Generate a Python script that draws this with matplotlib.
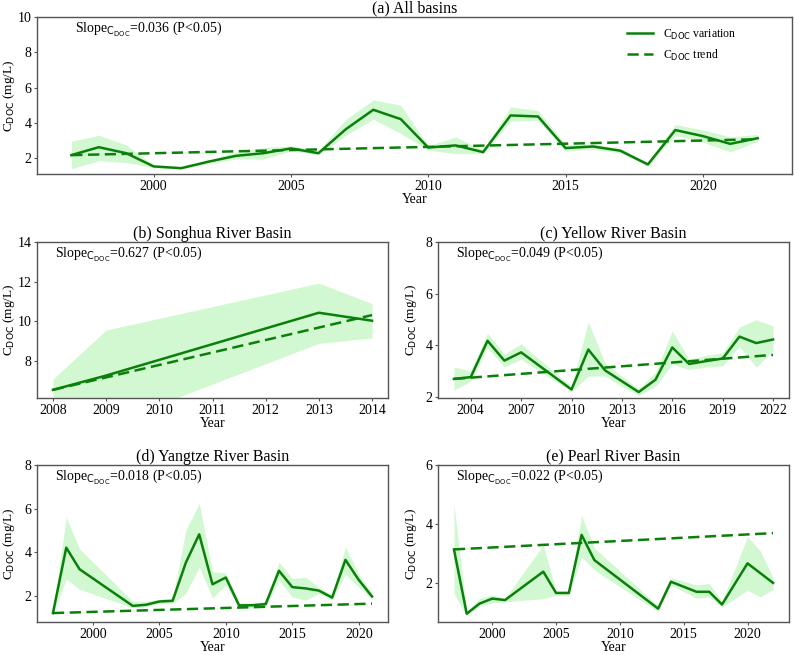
import matplotlib
matplotlib.use("Agg")
import matplotlib.pyplot as plt
import numpy as np

plt.rcParams['font.family'] = ['Liberation Serif', 'DejaVu Sans']
plt.rcParams['mathtext.fontset'] = 'dejavusans'

LINE = '#0a800a'
FILL = '#90ee90'

# (a) All basins
a_years = [1997, 1998, 1999, 2000, 2001, 2002, 2003, 2004, 2005, 2006, 2007, 2008, 2009,
           2010, 2011, 2012, 2013, 2014, 2015, 2016, 2017, 2018, 2019, 2020, 2021, 2022]
a_mean = [2.17, 2.62, 2.28, 1.53, 1.43, 1.8, 2.13, 2.28, 2.55, 2.28, 3.64, 4.74, 4.21,
          2.6, 2.72, 2.34, 4.42, 4.36, 2.57, 2.66, 2.42, 1.64, 3.59, 3.25, 2.81, 3.13]
a_low = [1.4, 1.85, 1.75, 1.45, 1.38, 1.7, 1.95, 1.95, 2.4, 2.2, 3.3, 4.2, 3.4,
         2.45, 2.25, 2.25, 4.1, 4.15, 2.4, 2.5, 2.3, 1.55, 3.3, 2.9, 2.35, 2.95]
a_high = [2.95, 3.3, 2.75, 1.6, 1.5, 1.9, 2.35, 2.6, 2.7, 2.4, 4.2, 5.3, 5.0,
          2.7, 3.2, 2.45, 4.9, 4.7, 2.75, 2.8, 2.55, 1.75, 3.9, 3.6, 3.2, 3.35]
a_slope = 0.036

# (b) Songhua River Basin
b_years = [2008, 2009, 2013, 2014]
b_mean = [6.56, 7.28, 10.44, 10.04]
b_low = [6.0, 4.8, 8.9, 9.17]
b_high = [7.1, 9.57, 11.93, 10.9]
b_slope = 0.627

# (c) Yellow River Basin
c_years = [2003, 2004, 2005, 2006, 2007, 2010, 2011, 2012, 2013, 2014, 2015,
           2016, 2017, 2018, 2019, 2020, 2021, 2022]
c_mean = [2.69, 2.76, 4.17, 3.4, 3.72, 2.28, 3.83, 3.02, 2.6, 2.18, 2.66,
          3.91, 3.27, 3.38, 3.48, 4.33, 4.08, 4.22]
c_low = [2.25, 2.6, 3.9, 3.15, 3.45, 2.2, 2.8, 2.8, 2.4, 2.05, 2.4,
         3.27, 3.05, 3.15, 3.2, 3.95, 3.15, 3.8]
c_high = [3.15, 3.0, 4.46, 3.65, 4.05, 2.4, 4.9, 3.3, 2.8, 2.3, 2.95,
          4.55, 3.45, 3.6, 3.7, 4.7, 4.98, 4.75]
c_slope = 0.049

# (d) Yangtze River Basin
d_years = [1997, 1998, 1999, 2003, 2004, 2005, 2006, 2007, 2008, 2009, 2010,
           2011, 2012, 2013, 2014, 2015, 2016, 2017, 2018, 2019, 2020, 2021]
d_mean = [1.21, 4.21, 3.22, 1.54, 1.59, 1.74, 1.77, 3.53, 4.82, 2.53, 2.84,
          1.56, 1.57, 1.62, 3.15, 2.4, 2.34, 2.24, 1.92, 3.65, 2.73, 1.97]
d_low = [1.15, 2.76, 2.3, 1.45, 1.5, 1.65, 1.65, 2.12, 3.31, 1.9, 2.5,
         1.45, 1.45, 1.5, 2.7, 1.95, 1.8, 2.1, 1.8, 3.0, 2.4, 1.85]
d_high = [1.3, 5.6, 4.15, 1.75, 1.75, 1.85, 1.9, 5.02, 6.24, 3.1, 3.05,
          1.7, 1.65, 1.75, 3.55, 2.8, 2.85, 2.4, 2.05, 4.25, 3.0, 2.1]
d_slope = 0.018

# (e) Pearl River Basin
e_years = [1997, 1998, 1999, 2000, 2001, 2004, 2005, 2006, 2007, 2008, 2013,
           2014, 2016, 2017, 2018, 2020, 2021, 2022]
e_mean = [3.15, 0.98, 1.32, 1.49, 1.44, 2.4, 1.68, 1.68, 3.64, 2.79, 1.15,
          2.06, 1.72, 1.72, 1.29, 2.68, 2.35, 2.02]
e_low = [1.66, 0.9, 1.25, 1.35, 1.38, 1.49, 1.6, 1.6, 2.9, 2.45, 1.05,
         1.95, 1.5, 1.55, 1.2, 1.77, 1.55, 1.8]
e_high = [4.69, 1.05, 1.5, 1.62, 1.5, 3.3, 1.75, 1.75, 4.3, 3.2, 1.25,
          2.2, 1.95, 2.0, 1.4, 3.58, 3.1, 2.2]
e_slope = 0.022

titles = ['(a) All basins', '(b) Songhua River Basin', '(c) Yellow River Basin',
          '(d) Yangtze River Basin', '(e) Pearl River Basin']

fig = plt.figure(figsize=(7.94, 6.55), dpi=100)
W, H = 794.0, 655.0


def add_ax(l, t, r, b):
    return fig.add_axes([l / W, (H - b) / H, (r - l) / W, (b - t) / H])


boxes = [(37, 17, 792, 174), (37, 242, 388, 398), (438, 242, 789, 398),
         (37, 465, 388, 622), (438, 465, 789, 622)]
axes = [add_ax(*bx) for bx in boxes]
# x pixel of the right edge of each y label
label_right = [17, 17, 419, 17, 419]

datasets = [
    (a_years, a_mean, a_low, a_high, a_slope),
    (b_years, b_mean, b_low, b_high, b_slope),
    (c_years, c_mean, c_low, c_high, c_slope),
    (d_years, d_mean, d_low, d_high, d_slope),
    (e_years, e_mean, e_low, e_high, e_slope),
]

ylims = [(1.1, 10), (6.15, 14), (1.95, 8), (0.8, 8), (0.7, 6)]
yticks = [[2, 4, 6, 8, 10], [8, 10, 12, 14], [2, 4, 6, 8], [2, 4, 6, 8], [2, 4, 6]]
xticks = [[2000, 2005, 2010, 2015, 2020],
          list(range(2008, 2015)),
          list(range(2004, 2023, 3)),
          [2000, 2005, 2010, 2015, 2020],
          [2000, 2005, 2010, 2015, 2020]]

SPINE = '#555555'
for i, (ax, (yrs, mean, low, high, slope)) in enumerate(zip(axes, datasets)):
    yrs = np.array(yrs, dtype=float)
    ax.fill_between(yrs, low, high, color=FILL, alpha=0.4, linewidth=0)
    ax.plot(yrs, mean, color=LINE, lw=1.8, label=r'C$_{\mathrm{DOC}}$ variation')
    trend = mean[0] + slope * (yrs - yrs[0])
    ax.plot(yrs, trend, color=LINE, lw=1.8, ls=(0, (4.5, 2.2)),
            label=r'C$_{\mathrm{DOC}}$ trend')
    ax.set_ylim(*ylims[i])
    ax.set_yticks(yticks[i])
    ax.set_xticks(xticks[i])
    ax.tick_params(labelsize=10, color=SPINE, length=2.5, width=0.8, pad=1.5)
    for s in ax.spines.values():
        s.set_color(SPINE)
        s.set_linewidth(1.0)
    ax.set_title(titles[i], fontsize=11.5, pad=3)
    ax.set_xlabel('Year', fontsize=10, labelpad=0)
    ax.set_ylabel(r'C$_{\mathrm{DOC}}$ (mg/L)', fontsize=9.5)
    l, t, r, b = boxes[i]
    ax.yaxis.set_label_coords((label_right[i] - l) / (r - l), 0.5)
    ax.text(0.05, 0.92, r'Slope$_{\mathrm{C_{DOC}}}$=%.3f (P<0.05)' % slope,
            transform=ax.transAxes, fontsize=10, va='center', ha='left')
    if i == 0:
        ax.legend(loc='upper right', bbox_to_anchor=(0.94, 1.0), frameon=False,
                  fontsize=8.5, handlelength=2.2)

fig.savefig('out.png', dpi=100)
